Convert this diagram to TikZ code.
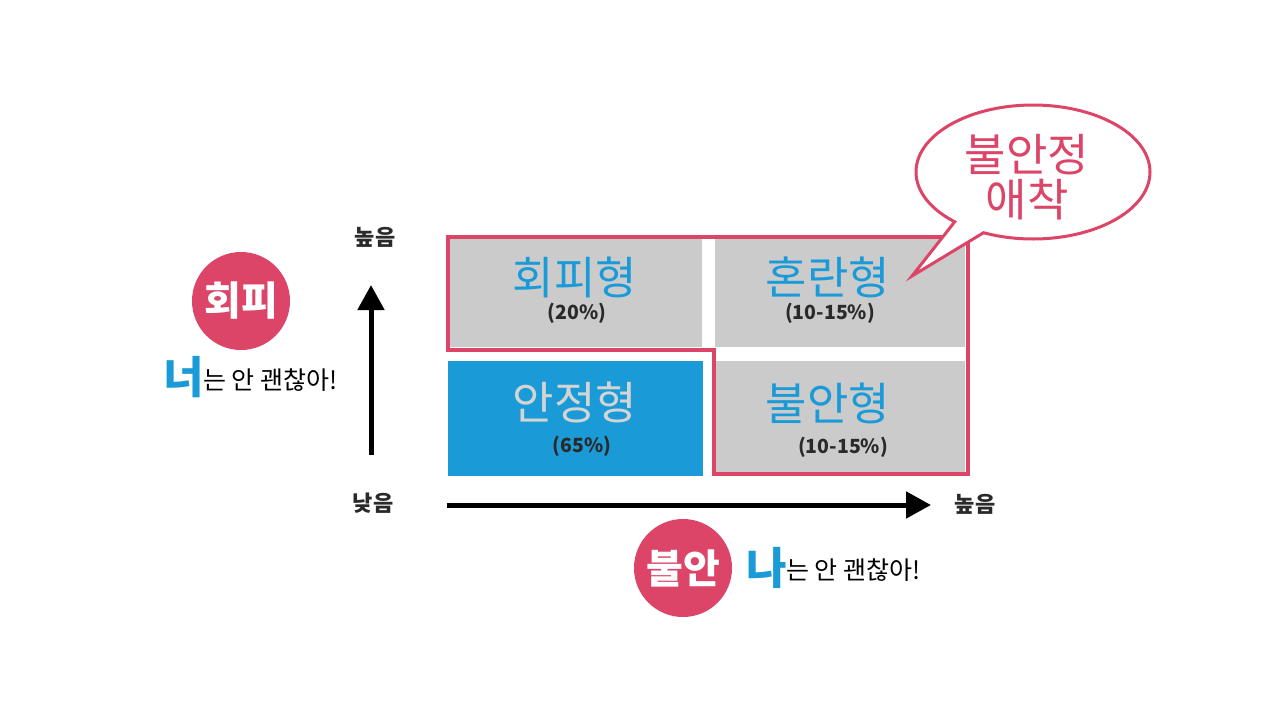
\documentclass[tikz,border=0pt]{standalone}
\usepackage{fontspec}
\setmainfont{Noto Sans CJK KR}
\usetikzlibrary{arrows.meta}
\definecolor{cred}{HTML}{DC4468}
\definecolor{cblue}{HTML}{1A9BD7}
\definecolor{cgray}{HTML}{CBCBCB}
\definecolor{cdark}{HTML}{2A2A2A}
\definecolor{clight}{HTML}{D4D4D4}
\tikzset{
  cell/.style={fill=cgray, draw=none, inner sep=0pt},
  title/.style={text=cblue, font=\fontsize{45}{45}\selectfont, inner sep=0pt},
  pct/.style={text=cdark, font=\bfseries\fontsize{19.5}{20}\selectfont, inner sep=0pt},
  axlabel/.style={text=cdark, font=\bfseries\fontsize{22}{22}\selectfont, inner sep=0pt},
  axis/.style={line width=5pt, -{Triangle[length=25pt,width=26pt]}},
  badge/.style={circle, fill=cred, minimum size=98pt, inner sep=0pt, text=white, font=\bfseries\fontsize{40}{40}\selectfont},
  big/.style={text=cblue, font=\bfseries\fontsize{44}{44}\selectfont, inner sep=0pt},
  hand/.style={text=black, font=\fontsize{25}{25}\selectfont, inner sep=0pt},
  outline/.style={draw=cred, line width=4pt, line join=miter},
  bubble/.style={draw=cred, line width=3pt, fill=white, line join=miter},
}
\begin{document}
\begin{tikzpicture}[x=1pt,y=-1pt]
\useasboundingbox (0,0) rectangle (1280,720);
% cells
\node[cell, minimum width=254pt, minimum height=109pt] (c1) at (575,292.5) {};
\node[cell, minimum width=250pt, minimum height=109pt] (c2) at (840,292.5) {};
\node[cell, fill=cblue, minimum width=255pt, minimum height=115pt] (c3) at (575.5,418.5) {};
\node[cell, minimum width=250pt, minimum height=111pt] (c4) at (840,416.5) {};
% outline
\draw[outline] (448,237) -- (968,237) -- (968,474) -- (714,474) -- (714,350) -- (448,350) -- cycle;
% labels
\node[title] (t1) at (575,277) {회피형};
\node[pct] (p1) at (577,313) {(20\%)};
\node[title] (t2) at (828,277) {혼란형};
\node[pct] (p2) at (830,313) {(10-15\%)};
\node[title, text=clight] (t3) at (575,402) {안정형};
\node[pct] (p3) at (582,446) {(65\%)};
\node[title] (t4) at (828,403) {불안형};
\node[pct] (p4) at (843,447) {(10-15\%)};
% bubble
\coordinate (bc) at (1033,172);
\coordinate (tip) at (912,276);
\draw[bubble] (bc) ++(132:117 and 67) arc[start angle=132, end angle=475, x radius=117, y radius=67] -- (tip) -- cycle;
\node[text=cred, font=\fontsize{45}{45}\selectfont, align=center, inner sep=0pt] (bt) at (1027,177) {불안정\\애착};
% axes
\coordinate (vy0) at (371,455);
\coordinate (vy1) at (371,285);
\draw[axis] (vy0) -- (vy1);
\coordinate (hx0) at (447,505);
\coordinate (hx1) at (931,505);
\draw[axis] (hx0) -- (hx1);
\node[axlabel] (hi1) at (375,237) {높음};
\node[axlabel] (lo) at (373,503) {낮음};
\node[axlabel] (hi2) at (975,504) {높음};
% badges
\node[badge] (b1) at (241,301) {회피};
\node[badge] (b2) at (683,568) {불안};
% phrases
\node[big] (n1) at (184,377) {너};
\node[hand, anchor=west] (h1) at (203,380) {는 안 괜찮아!};
\node[big] (n2) at (767,568) {나};
\node[hand, anchor=west] (h2) at (786,570) {는 안 괜찮아!};
\end{tikzpicture}
\end{document}
